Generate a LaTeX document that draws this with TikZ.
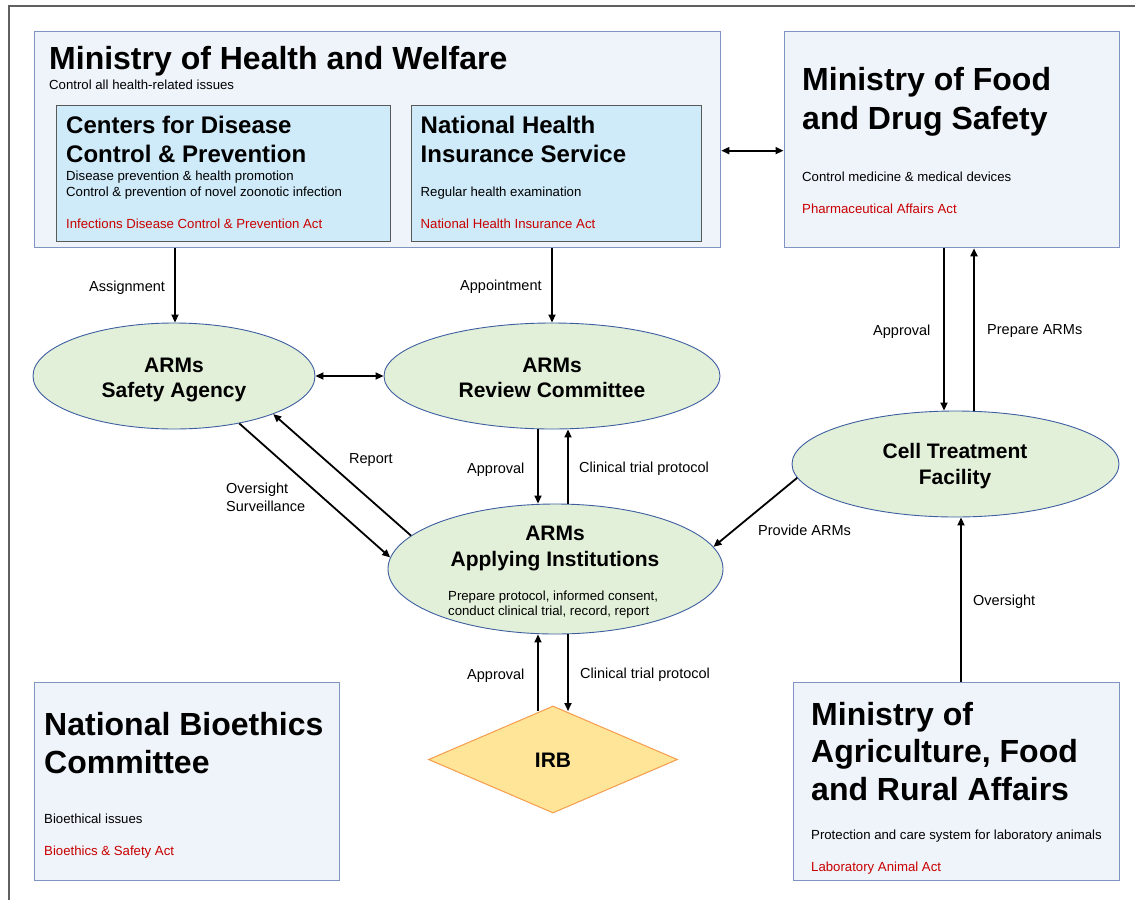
\documentclass[tikz,border=0pt]{standalone}
\usepackage{fontspec}
\setmainfont{Liberation Sans}
\usetikzlibrary{arrows.meta,shapes.geometric,calc}
\definecolor{boxfill}{HTML}{EFF3FA}
\definecolor{boxdraw}{HTML}{8094C4}
\definecolor{cdcfill}{HTML}{CFEAF8}
\definecolor{cdcdraw}{HTML}{595959}
\definecolor{ellfill}{HTML}{E2EFD9}
\definecolor{elldraw}{HTML}{3D5FA0}
\definecolor{irbfill}{HTML}{FFE598}
\definecolor{irbdraw}{HTML}{F59C4C}
\definecolor{actred}{HTML}{C80000}
\definecolor{framec}{HTML}{606060}
\newcommand\mybig{\fontsize{32}{38}\selectfont\bfseries}
\newcommand\mymid{\fontsize{24}{29}\selectfont\bfseries}
\newcommand\myell{\fontsize{21}{25}\selectfont\bfseries}
\newcommand\mybody{\fontsize{13.2}{16}\selectfont}
\newcommand\mylab{\fontsize{14.5}{17}\selectfont}
\begin{document}
\begin{tikzpicture}[x=1pt,y=-1pt,
  box/.style={rectangle,draw=boxdraw,fill=boxfill,line width=1.3pt,inner sep=0,anchor=north west},
  sub/.style={rectangle,draw=cdcdraw,fill=cdcfill,line width=1.2pt,inner sep=0,anchor=north west},
  ell/.style={ellipse,draw=elldraw,fill=ellfill,line width=0.9pt,inner sep=0},
  tx/.style={anchor=base west,inner sep=0},
  ctx/.style={anchor=base,inner sep=0},
  red/.style={text=actred},
  arr/.style={line width=1.8pt,-{Triangle[length=8pt,width=7pt]}},
  darr/.style={line width=1.8pt,{Triangle[length=8pt,width=7pt]}-{Triangle[length=8pt,width=7pt]}}]
\useasboundingbox (0,0) rectangle (1135,900);
\draw[framec,line width=1.5pt] (9,900) -- (9,6) -- (1135,6);

% Ministry of Health and Welfare
\node[box,minimum width=686,minimum height=216] (mohw) at (34,31) {};
\node[tx,font=\mybig] (mohwT) at (49,69) {Ministry of Health and Welfare};
\node[tx,font=\mybody] (mohwS) at (49,89) {Control all health-related issues};

\node[sub,minimum width=334,minimum height=136] (cdc) at (56,105) {};
\node[tx,font=\mymid] (cdcT1) at (66,133) {Centers for Disease};
\node[tx,font=\mymid] (cdcT2) at (66,162) {Control \& Prevention};
\node[tx,font=\mybody] (cdcS1) at (66,180.5) {Disease prevention \& health promotion};
\node[tx,font=\mybody] (cdcS2) at (66,196.5) {Control \& prevention of novel zoonotic infection};
\node[tx,font=\mybody,red] (cdcA) at (66,228.5) {Infections Disease Control \& Prevention Act};

\node[sub,minimum width=290,minimum height=136] (nhis) at (410.5,105) {};
\node[tx,font=\mymid] (nhisT1) at (420.5,133) {National Health};
\node[tx,font=\mymid] (nhisT2) at (420.5,162) {Insurance Service};
\node[tx,font=\mybody] (nhisS) at (420.5,196.5) {Regular health examination};
\node[tx,font=\mybody,red] (nhisA) at (420.5,228.5) {National Health Insurance Act};

% Ministry of Food and Drug Safety
\node[box,minimum width=335.5,minimum height=216] (mfds) at (783.5,31) {};
\node[tx,font=\mybig] (mfdsT1) at (802,90.5) {Ministry of Food};
\node[tx,font=\mybig] (mfdsT2) at (802,129) {and Drug Safety};
\node[tx,font=\mybody] (mfdsS) at (802,181) {Control medicine \& medical devices};
\node[tx,font=\mybody,red] (mfdsA) at (802,213) {Pharmaceutical Affairs Act};

% National Bioethics Committee
\node[box,minimum width=305,minimum height=198] (nbc) at (34,682) {};
\node[tx,font=\mybig] (nbcT1) at (44,735) {National Bioethics};
\node[tx,font=\mybig] (nbcT2) at (44,773.5) {Committee};
\node[tx,font=\mybody] (nbcS) at (44,823) {Bioethical issues};
\node[tx,font=\mybody,red] (nbcA) at (44,855) {Bioethics \& Safety Act};

% Ministry of Agriculture
\node[box,minimum width=326.5,minimum height=198] (mafra) at (792.5,682) {};
\node[tx,font=\mybig] (mafT1) at (811,725) {Ministry of};
\node[tx,font=\mybig] (mafT2) at (811,762.5) {Agriculture, Food};
\node[tx,font=\mybig] (mafT3) at (811,800) {and Rural Affairs};
\node[tx,font=\mybody] (mafS) at (811,839) {Protection and care system for laboratory animals};
\node[tx,font=\mybody,red] (mafA) at (811,871) {Laboratory Animal Act};

% Ellipses
\node[ell,minimum width=282,minimum height=106] (sa) at (174,376) {};
\node[ctx,font=\myell] (saT1) at (174,372) {ARMs};
\node[ctx,font=\myell] (saT2) at (174,397) {Safety Agency};

\node[ell,minimum width=336,minimum height=106] (rc) at (552,376) {};
\node[ctx,font=\myell] (rcT1) at (552,372) {ARMs};
\node[ctx,font=\myell] (rcT2) at (552,397) {Review Committee};

\node[ell,minimum width=335,minimum height=130] (ai) at (555.5,569) {};
\node[ctx,font=\myell] (aiT1) at (555,540) {ARMs};
\node[ctx,font=\myell] (aiT2) at (555,566.5) {Applying Institutions};
\node[tx,font=\mybody] (aiS1) at (448,600) {Prepare protocol, informed consent,};
\node[tx,font=\mybody] (aiS2) at (448,615.5) {conduct clinical trial, record, report};

\node[ell,minimum width=327,minimum height=106] (ct) at (955.5,464) {};
\node[ctx,font=\myell] (ctT1) at (955,458) {Cell Treatment};
\node[ctx,font=\myell] (ctT2) at (955,484) {Facility};

% IRB
\node[diamond,draw=irbdraw,fill=irbfill,line width=1pt,inner sep=0,aspect=2.3,
      minimum width=249,minimum height=107] (irb) at (553,759.5) {};
\node[ctx,font=\myell] (irbT) at (553,767.5) {IRB};

% Connectors
\draw[darr] ([yshift=-11pt]mohw.east) -- ([yshift=-11pt]mohw.east -| mfds.west);
\draw[arr] ([xshift=1pt]sa.north |- mohw.south) -- ([xshift=1pt]sa.north);
\draw[arr] (rc.north |- mohw.south) -- (rc.north);
\draw[darr] (sa.east) -- (rc.west);
\draw[arr] ([xshift=-14pt]rc.south) -- ([xshift=-17.5pt]ai.north);
\draw[arr] ([xshift=12.5pt]ai.north) -- ([xshift=16pt]rc.south);
\draw[arr] (sa.-36) -- (ai.176);
\draw[arr] (ai.167) -- (sa.-21);
\draw[arr] (ct.185) -- (ai.8);
\draw[arr] ([xshift=-11.5pt]ct.north |- mfds.south) -- ([xshift=-11.5pt]ct.north);
\draw[arr] ([xshift=18.5pt]ct.north) -- ([xshift=18.5pt]ct.north |- mfds.south);
\draw[arr] ([xshift=5.5pt]ct.south |- mafra.north) -- ([xshift=5.5pt]ct.south);
\draw[arr] ($(irb.north)+(-15,5)$) -- ([xshift=-17.5pt]ai.south);
\draw[arr] ([xshift=12.5pt]ai.south) -- ($(irb.north)+(15,5.5)$);

% Connector labels
\node[tx,font=\mylab] (lAssign) at (89,291) {Assignment};
\node[tx,font=\mylab] (lAppoint) at (460,290) {Appointment};
\node[tx,font=\mylab] (lAppr1) at (467,473) {Approval};
\node[tx,font=\mylab] (lCtp1) at (579,472.5) {Clinical trial protocol};
\node[tx,font=\mylab] (lReport) at (349,463) {Report};
\node[tx,font=\mylab] (lOv1) at (226,493) {Oversight};
\node[tx,font=\mylab] (lOv2) at (226,511) {Surveillance};
\node[tx,font=\mylab] (lProv) at (758,535) {Provide ARMs};
\node[tx,font=\mylab] (lAppr2) at (873,335) {Approval};
\node[tx,font=\mylab] (lPrep) at (987,334) {Prepare ARMs};
\node[tx,font=\mylab] (lOv3) at (973,605) {Oversight};
\node[tx,font=\mylab] (lAppr3) at (467,679) {Approval};
\node[tx,font=\mylab] (lCtp2) at (580,678) {Clinical trial protocol};
\end{tikzpicture}
\end{document}
